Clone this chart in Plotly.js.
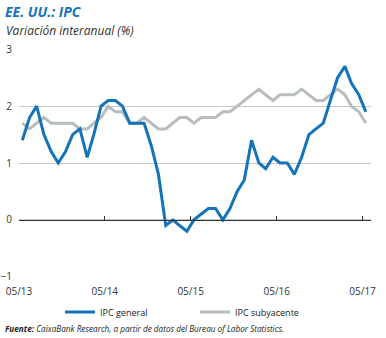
<!DOCTYPE html>
<html><head><meta charset="utf-8">
<script src="https://cdn.plot.ly/plotly-3.0.1.min.js"></script>
<style>html,body{margin:0;padding:0;background:#fff}#chart{width:386px;height:338px}</style>
</head><body><div id="chart"></div>
<script>
// Monthly dates, 05/2013 .. 05/2017
const months = ["2013-05","2013-06","2013-07","2013-08","2013-09","2013-10","2013-11","2013-12",
"2014-01","2014-02","2014-03","2014-04","2014-05","2014-06","2014-07","2014-08","2014-09","2014-10","2014-11","2014-12",
"2015-01","2015-02","2015-03","2015-04","2015-05","2015-06","2015-07","2015-08","2015-09","2015-10","2015-11","2015-12",
"2016-01","2016-02","2016-03","2016-04","2016-05","2016-06","2016-07","2016-08","2016-09","2016-10","2016-11","2016-12",
"2017-01","2017-02","2017-03","2017-04","2017-05"];
const ipcGeneral = [1.4,1.8,2.0,1.5,1.2,1.0,1.2,1.5,
1.6,1.1,1.5,2.0,2.1,2.1,2.0,1.7,1.7,1.7,1.3,0.8,
-0.1,0.0,-0.1,-0.2,0.0,0.1,0.2,0.2,0.0,0.2,0.5,0.7,
1.4,1.0,0.9,1.1,1.0,1.0,0.8,1.1,1.5,1.6,1.7,2.1,
2.5,2.7,2.4,2.2,1.9];
const ipcSubyacente = [1.7,1.6,1.7,1.8,1.7,1.7,1.7,1.7,
1.6,1.6,1.7,1.8,2.0,1.9,1.9,1.7,1.7,1.8,1.7,1.6,
1.6,1.7,1.8,1.8,1.7,1.8,1.8,1.8,1.9,1.9,2.0,2.1,
2.2,2.3,2.2,2.1,2.2,2.2,2.2,2.3,2.2,2.1,2.1,2.2,
2.3,2.2,2.0,1.9,1.7];
const tickDates = ["2013-05-01","2014-05-01","2015-05-01","2016-05-01","2017-05-01"];
const tickLabels = ["05/13","05/14","05/15","05/16","05/17"];
const seriesNames = ["IPC general","IPC subyacente"];

const xs = months.map(m => m + "-15");
const FONT = "Open Sans, sans-serif";

const traces = [
  {x: xs, y: ipcSubyacente, type:"scatter", mode:"lines", name: seriesNames[1],
   line:{color:"#b7bdc0", width:3}, legendrank:2},
  {x: xs, y: ipcGeneral, type:"scatter", mode:"lines", name: seriesNames[0],
   line:{color:"#1473b9", width:3}, legendrank:1},
  {x: xs, y: ipcGeneral.map(()=>null), xaxis:"x2", type:"scatter", mode:"lines", showlegend:false, hoverinfo:"skip"}
];

const xr = ["2013-05-01","2017-06-06"];
const layout = {
  width:386, height:338,
  margin:{l:19, r:15, t:49, b:61},
  paper_bgcolor:"#fff", plot_bgcolor:"#fff",
  font:{family:FONT, color:"#222", size:10},
  title:{text:"<b><i>EE. UU.: IPC</i></b>", font:{family:FONT, size:14, color:"#1473b9"},
         xref:"container", yref:"container", x:5/386, xanchor:"left", y:1-12/338, yanchor:"middle"},
  xaxis:{type:"date", range:xr, tickvals:tickDates, ticktext:tickLabels,
         showgrid:false, zeroline:false, showline:false, ticks:"", ticklabelstandoff:7,
         tickfont:{size:10, color:"#333"}},
  xaxis2:{type:"date", range:xr, overlaying:"x", anchor:"free", position:0.25,
          tickvals:tickDates, showticklabels:false, showgrid:false, zeroline:false,
          showline:true, linecolor:"#333", linewidth:1, ticks:"inside", ticklen:4, tickcolor:"#333"},
  yaxis:{range:[-1.005,3.005], tickvals:[-1,0,1,2,3], showgrid:true, gridcolor:"#c8c8c8", gridwidth:1,
         zeroline:false, showline:false, ticks:"", ticklabelstandoff:6, tickfont:{size:10, color:"#333"}},
  showlegend:true,
  legend:{orientation:"h", x:0.5, xanchor:"center", y:(277-312)/228, yanchor:"middle",
          font:{size:9, color:"#222"}, entrywidth:90, traceorder:"normal"},
  annotations:[
    {text:"<i>Variación interanual (%)</i>", xref:"paper", yref:"paper",
     x:(4-19)/352, xanchor:"left", y:(277-30)/228, yanchor:"middle", showarrow:false,
     font:{size:12, color:"#333"}},
    {text:"<b><i>Fuente:</i></b><i> CaixaBank Research, a partir de datos del Bureau of Labor Statistics.</i>",
     xref:"paper", yref:"paper", x:(3-19)/352, xanchor:"left", y:(277-328)/228, yanchor:"middle",
     showarrow:false, font:{size:8.2, color:"#222"}}
  ]
};
Plotly.newPlot("chart", traces, layout, {staticPlot:true, displayModeBar:false});
</script></body></html>
